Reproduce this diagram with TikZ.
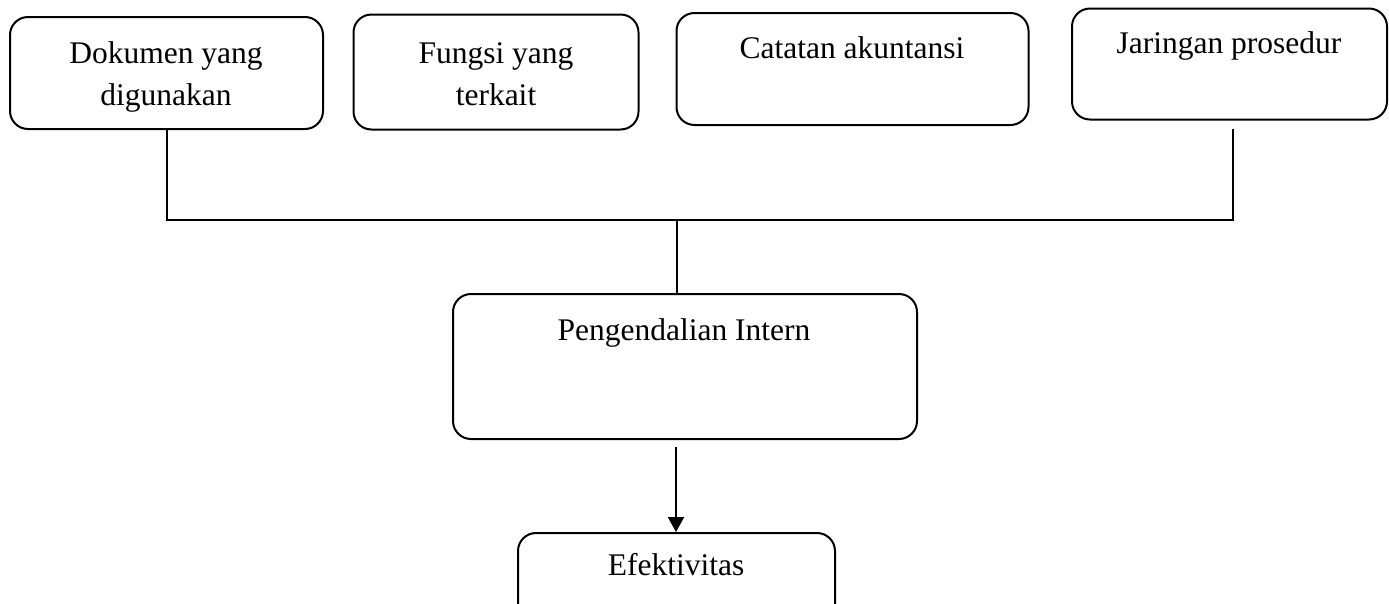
\documentclass[tikz,border=0pt]{standalone}
\usepackage{fontspec}
\setmainfont{Liberation Serif}
\usetikzlibrary{arrows.meta}
\begin{document}
\begin{tikzpicture}[x=1pt,y=1pt,
  box/.style={draw=black, line width=2pt, rounded corners=18pt, inner sep=0pt},
  txt/.style={anchor=base, inner sep=0pt, font=\fontsize{31.5}{38}\selectfont},
  conn/.style={draw=black, line width=2pt}]
\useasboundingbox (0,0) rectangle (1389,-603);
% boxes
\node[box, minimum width=313, minimum height=112] (b1) at (166.5,-73) {};
\node[box, minimum width=285, minimum height=115] (b2) at (496,-72) {};
\node[box, minimum width=352, minimum height=112] (b3) at (852.5,-69) {};
\node[box, minimum width=315, minimum height=111] (b4) at (1229.5,-64) {};
\node[box, minimum width=464, minimum height=145] (b5) at (685,-366.5) {};
\node[box, minimum width=317, minimum height=90] (b6) at (676.5,-578) {};
% texts
\node[txt] (t1a) at (166,-63) {Dokumen yang};
\node[txt] (t1b) at (166,-105) {digunakan};
\node[txt] (t2a) at (496,-63) {Fungsi yang};
\node[txt] (t2b) at (496,-105) {terkait};
\node[txt] (t3) at (852,-58) {Catatan akuntansi};
\node[txt] (t4) at (1229,-53) {Jaringan prosedur};
\node[txt] (t5) at (684,-340) {Pengendalian Intern};
\node[txt] (t6) at (676,-575) {Efektivitas};
% connectors
\coordinate (j) at (677,-220);
\coordinate (b4s) at (1233,-129);
\coordinate (b5s) at (676,-447);
\draw[conn] (b1.south) |- (j);
\draw[conn] (b4s) |- (j);
\draw[conn] (j) -- (j |- b5.north);
\draw[conn, -{Triangle[width=16pt,length=15pt]}] (b5s) -- (b5s |- b6.north);
\end{tikzpicture}
\end{document}
